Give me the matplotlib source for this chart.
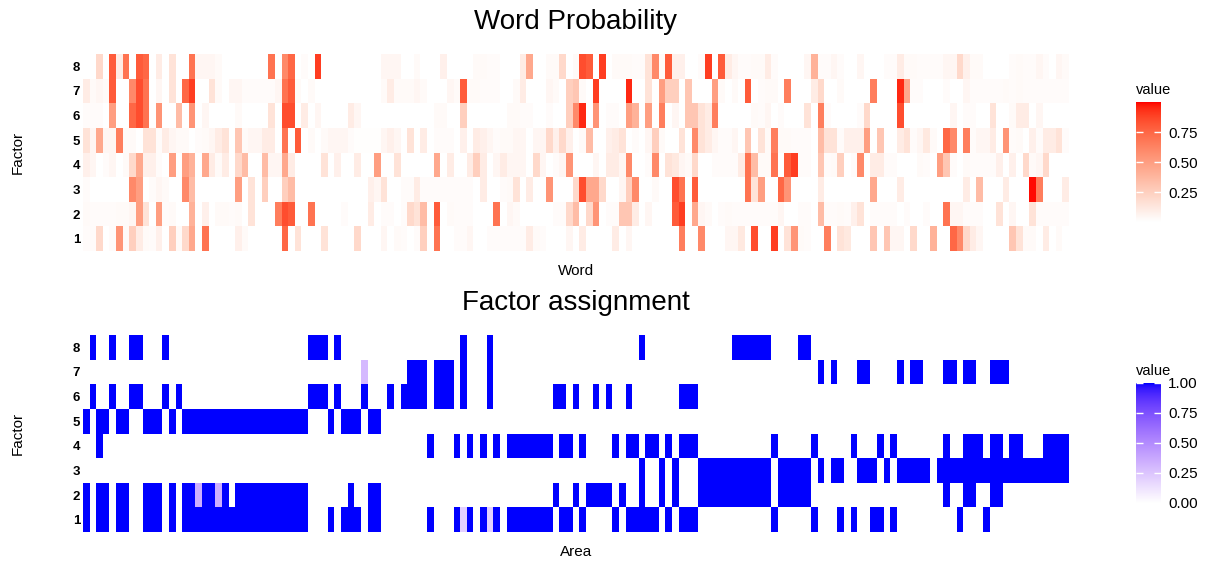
import numpy as np
import matplotlib.pyplot as plt
from matplotlib.colors import ListedColormap

plt.rcParams['font.family'] = ['Liberation Sans', 'DejaVu Sans']

factors = [1, 2, 3, 4, 5, 6, 7, 8]

# word probability per factor, in percent, one entry per word
word_f8 = [0,0,20,0,80,10,70,0,80,75,0,10,0,15,0,0,70,5,5,5,3,0,0,0,0,0,0,0,70,0,60,75,0,2,0,90,0,0,0,0,0,0,0,0,0,5,5,5,
           0,0,3,0,0,0,8,0,0,0,0,3,3,2,2,0,0,0,10,45,0,0,3,3,20,0,3,85,80,0,90,0,3,3,3,2,2,15,60,3,80,8,8,0,0,2,90,0,80,10,
           5,2,2,3,3,10,2,0,0,0,0,5,40,2,2,5,2,0,0,5,0,0,0,2,2,10,3,3,2,2,2,2,5,5,20,8,3,3,0,0,0,0,2,3,2,2,5,2,0,5,3]
word_f7 = [10,3,5,3,80,0,0,60,85,70,0,5,0,15,0,75,90,0,0,15,3,0,5,5,2,2,2,2,2,5,70,80,3,0,3,0,0,0,0,0,0,0,0,0,0,3,10,3,
           3,3,5,3,0,0,0,5,3,80,3,3,2,2,2,0,0,3,10,0,0,0,5,3,0,25,30,3,0,90,0,0,0,0,95,0,0,15,0,50,25,25,0,30,0,0,0,50,3,0,
           3,0,80,0,2,3,3,0,65,0,0,0,10,20,0,0,3,0,0,0,0,65,0,0,0,95,45,2,2,0,0,0,2,0,0,5,2,2,2,2,2,3,2,3,2,2,2,2,2,2,2]
word_f6 = [2,2,2,0,50,0,0,75,85,70,0,55,0,0,35,0,55,0,5,0,0,0,0,3,0,0,0,0,15,0,85,85,0,10,0,5,0,0,0,0,10,5,0,0,0,0,0,0,
           0,0,0,0,0,3,3,0,0,25,0,0,0,0,0,0,3,3,2,2,0,0,2,0,0,25,60,95,0,55,0,2,2,0,50,40,0,50,0,65,0,5,0,30,30,15,10,65,0,0,
           0,0,0,3,2,5,0,2,0,0,0,15,0,65,2,0,0,0,0,2,20,0,0,0,0,85,0,0,0,0,0,0,0,5,0,2,2,0,0,15,0,0,3,10,10,0,5,0,0,0,0]
word_f5 = [15,5,45,5,5,65,3,3,0,15,15,2,10,5,3,3,0,2,3,5,10,15,0,30,3,5,5,10,10,0,70,0,80,0,3,0,3,5,5,5,2,1,1,1,1,5,8,5,
           0,15,0,10,0,2,2,2,0,8,0,10,8,5,2,3,3,5,5,0,5,5,20,8,20,8,0,3,35,0,0,8,10,15,0,2,0,5,25,3,0,0,15,0,60,15,10,5,2,2,
           5,0,30,0,15,3,65,3,3,2,2,2,0,35,15,15,2,8,8,8,50,0,30,0,0,10,15,2,5,12,3,0,75,60,0,65,2,5,5,10,0,55,2,3,0,8,2,10,10,15,2]
word_f4 = [8,5,0,2,5,0,3,20,45,8,8,2,0,50,0,50,40,0,45,10,3,10,0,20,35,0,0,35,5,5,45,10,0,0,0,0,15,0,8,0,0,10,0,0,50,0,0,15,
           0,0,0,0,0,45,0,10,0,0,10,25,10,0,5,10,5,5,5,0,20,5,0,2,5,55,0,0,0,5,0,10,10,5,60,0,0,2,60,0,15,12,5,3,20,0,0,2,2,2,
           2,10,70,35,3,3,70,0,80,90,2,2,0,30,2,3,25,0,2,60,0,10,10,2,2,0,0,0,3,2,0,50,30,2,0,3,2,2,2,2,8,0,8,0,20,3,5,20,0,0,0]
word_f3 = [2,0,0,0,0,0,0,60,50,0,2,5,3,0,0,60,35,0,0,0,0,0,0,50,0,15,0,25,0,0,25,35,0,0,0,0,0,0,0,0,0,0,0,8,5,15,0,0,
           2,2,10,2,2,2,2,2,2,2,2,0,10,0,0,2,3,15,0,10,0,0,55,0,0,0,20,85,45,45,20,0,0,5,25,60,0,0,3,0,0,85,70,0,80,0,0,0,0,0,
           0,0,70,15,50,0,0,75,55,0,0,0,0,10,0,0,0,0,0,0,0,45,0,0,0,10,0,0,0,0,0,0,0,0,0,10,0,35,0,0,0,10,0,0,0,99,65,0,0,0,10]
word_f2 = [3,2,2,2,2,3,3,5,50,15,0,50,2,3,0,0,40,0,8,0,3,3,2,3,0,15,0,0,0,65,85,80,0,0,70,0,0,0,0,2,0,0,0,10,0,2,2,0,
           2,20,15,35,0,80,0,3,2,2,2,0,0,0,70,0,5,3,0,0,0,0,0,2,2,20,35,0,20,55,0,2,2,30,30,10,0,5,0,0,0,80,90,0,45,5,3,0,2,3,
           2,2,2,2,2,2,2,5,0,0,2,2,0,35,2,2,3,2,8,15,0,2,2,2,2,0,2,0,0,2,0,0,70,5,5,2,2,2,0,0,15,0,5,0,0,15,2,2,2,2,2]
word_f1 = [2,2,20,0,2,55,3,25,10,3,2,8,0,25,3,20,45,0,70,0,0,0,0,8,3,0,0,0,0,0,75,0,15,0,0,0,15,0,0,0,0,20,0,0,0,5,0,3,
           2,0,2,25,0,70,0,0,2,2,5,0,0,2,2,2,2,2,2,10,3,2,0,0,0,5,0,10,0,0,0,0,10,0,5,0,0,0,0,0,0,0,65,0,0,60,0,0,0,5,
           5,12,0,85,0,0,90,0,15,55,3,2,0,0,65,0,15,12,0,0,0,30,0,30,5,5,0,20,0,0,40,0,0,75,60,20,10,5,0,0,0,0,30,15,3,3,0,10,0,3,0]

n_areas = 149
# runs of areas (first, last) assigned to each factor
area_f8 = [(1,1),(4,4),(7,8),(12,12),(34,36),(38,38),(57,57),(61,61),(84,84),(98,103),(108,109)]
area_f7 = [(49,51),(53,55),(57,57),(61,61),(111,111),(113,113),(117,118),(123,123),(125,126),(130,131),(133,134),(137,139)]
area_f6 = [(1,1),(4,4),(7,8),(12,12),(14,14),(34,36),(38,38),(42,42),(46,46),(48,51),(53,55),(57,57),(61,61),
           (71,72),(74,74),(77,77),(79,79),(82,82),(90,92)]
area_f5 = [(0,0),(2,3),(5,6),(9,11),(13,13),(15,33),(37,37),(39,41),(43,44)]
area_f4 = [(2,2),(52,52),(56,56),(58,58),(60,60),(62,62),(64,70),(72,73),(75,75),(80,80),(82,83),(85,86),(88,88),
           (90,92),(104,104),(110,110),(116,116),(120,120),(122,122),(130,130),(133,135),(137,138),(140,141),(145,148)]
area_f3 = [(84,84),(87,87),(89,89),(93,103),(105,109),(111,111),(113,114),(117,119),(121,121),(123,127),(129,148)]
area_f2 = [(0,0),(2,3),(5,6),(9,11),(13,13),(15,16),(18,19),(21,21),(23,33),(40,40),(43,44),(71,71),(74,74),
           (76,79),(81,81),(84,84),(87,87),(89,89),(93,103),(105,109),(130,130),(133,134),(137,138)]
area_f1 = [(0,0),(2,3),(5,6),(9,11),(13,13),(15,33),(37,37),(39,41),(43,44),(52,52),(56,56),(58,58),(60,60),(62,62),
           (64,70),(72,73),(75,75),(80,80),(82,86),(88,88),(90,92),(104,104),(110,110),(114,114),(116,116),(119,120),
           (122,122),(132,132),(136,136)]
# cells with a partial assignment: (factor, area, value)
area_partial = [(2, 17, 0.35), (2, 20, 0.35), (7, 42, 0.3), (1, 57, 0.2), (1, 61, 0.2)]


def srgb_to_lab(rgb):
    rgb = np.asarray(rgb, float)
    lin = np.where(rgb <= 0.04045, rgb / 12.92, ((rgb + 0.055) / 1.055) ** 2.4)
    M = np.array([[0.4124564, 0.3575761, 0.1804375],
                  [0.2126729, 0.7151522, 0.0721750],
                  [0.0193339, 0.1191920, 0.9503041]])
    xyz = M @ lin / np.array([0.95047, 1.0, 1.08883])
    d = 6 / 29
    f = np.where(xyz > d ** 3, np.cbrt(xyz), xyz / (3 * d * d) + 4 / 29)
    return np.array([116 * f[1] - 16, 500 * (f[0] - f[1]), 200 * (f[1] - f[2])])


def lab_to_srgb(lab):
    L, a, b = lab
    fy = (L + 16) / 116
    fx = fy + a / 500
    fz = fy - b / 200
    d = 6 / 29
    f = np.array([fx, fy, fz])
    xyz = np.where(f > d, f ** 3, 3 * d * d * (f - 4 / 29)) * np.array([0.95047, 1.0, 1.08883])
    Minv = np.array([[3.2404542, -1.5371385, -0.4985314],
                     [-0.9692660, 1.8760108, 0.0415560],
                     [0.0556434, -0.2040259, 1.0572252]])
    lin = np.clip(Minv @ xyz, 0, 1)
    rgb = np.where(lin <= 0.0031308, 12.92 * lin, 1.055 * lin ** (1 / 2.4) - 0.055)
    return np.clip(rgb, 0, 1)


def gradient(high):
    lo, hi = srgb_to_lab((1, 1, 1)), srgb_to_lab(high)
    return ListedColormap([lab_to_srgb(lo + t * (hi - lo)) for t in np.linspace(0, 1, 256)])


reds = gradient((1, 0, 0))
blues = gradient((0, 0, 1))

word = np.array([word_f1, word_f2, word_f3, word_f4, word_f5, word_f6, word_f7, word_f8]) / 100.0

area = np.zeros((8, n_areas))
for i, runs in enumerate([area_f1, area_f2, area_f3, area_f4, area_f5, area_f6, area_f7, area_f8]):
    for a, b in runs:
        area[i, a:b + 1] = 1.0
for f, a, v in area_partial:
    area[f - 1, a] = v

W, H = 1207, 565
fig = plt.figure(figsize=(W / 100, H / 100), dpi=100)


def px_axes(x0, y0, x1, y1):
    return fig.add_axes([x0 / W, 1 - y1 / H, (x1 - x0) / W, (y1 - y0) / H])


def heat(y0, y1, data, cmap, title, xlabel):
    ax = px_axes(83, y0, 1069, y1)
    n = data.shape[1]
    ax.pcolormesh(np.arange(n + 1) - 0.5, np.arange(9) + 0.5, data, cmap=cmap, vmin=0, vmax=1)
    ax.set_xlim(-0.5, n - 0.5)
    ax.set_ylim(0.5, 8.5)
    ax.set_xticks([])
    ax.set_yticks(factors)
    ax.set_yticklabels([str(f) for f in factors], fontweight='bold', fontsize=9.5)
    ax.tick_params(axis='y', length=0, pad=2)
    for s in ax.spines.values():
        s.set_visible(False)
    mid = (y0 + y1) / 2
    fig.text(576 / W, 1 - (y0 - 32) / H, title, ha='center', va='center', fontsize=20)
    fig.text(576 / W, 1 - (y1 + 20) / H, xlabel, ha='center', va='center', fontsize=11)
    fig.text(18 / W, 1 - mid / H, 'Factor', rotation=90, ha='center', va='center', fontsize=11)


def legend(y0, y1, cmap, ticks):
    cax = px_axes(1136, y0, 1161, y1)
    cax.imshow(np.linspace(0, 1, 300)[:, None], origin='lower', aspect='auto',
               extent=[0, 1, 0, 1], cmap=cmap)
    cax.set_xticks([])
    cax.set_yticks(ticks)
    cax.set_yticklabels(['%.2f' % t for t in ticks], fontsize=11)
    cax.yaxis.set_ticks_position('both')
    cax.tick_params(axis='y', direction='in', color='white', length=5, width=1,
                    left=True, right=True, labelleft=False, labelright=True, pad=5)
    for s in cax.spines.values():
        s.set_visible(False)
    fig.text(1136 / W, 1 - (y0 - 12) / H, 'value', ha='left', va='center', fontsize=10.5)


heat(54, 251, word, reds, 'Word Probability', 'Word')
legend(102, 222, reds, [0.25, 0.5, 0.75])

heat(335, 532, area, blues, 'Factor assignment', 'Area')
legend(383, 503, blues, [0.0, 0.25, 0.5, 0.75, 1.0])

fig.savefig('out.png', dpi=100)
